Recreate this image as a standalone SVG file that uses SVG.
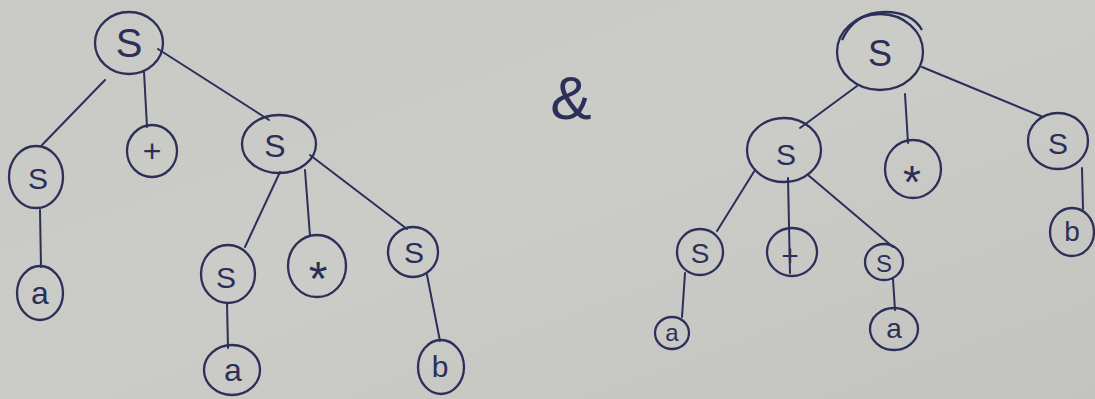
<svg xmlns="http://www.w3.org/2000/svg" width="1095" height="399" viewBox="0 0 1095 399">
  <defs>
    <linearGradient id="paper" x1="0" y1="0" x2="1" y2="1">
      <stop offset="0" stop-color="#c9cac6"/>
      <stop offset="0.5" stop-color="#cbccc8"/>
      <stop offset="1" stop-color="#c3c4c0"/>
    </linearGradient>
  </defs>
  <style>
    .node { fill: none; stroke: #2c2f58; stroke-width: 2.3; }
    .edge { fill: none; stroke: #2c2f58; stroke-width: 2; stroke-linecap: round; }
    .lbl { font-family: "Liberation Sans", "DejaVu Sans", sans-serif; fill: #2c2f58; text-anchor: middle; dominant-baseline: central; }
  </style>
  <rect x="0" y="0" width="1095" height="399" fill="url(#paper)"/>

  <g id="connectors">
    <!-- left tree -->
    <line class="edge" x1="105" y1="80" x2="42" y2="145"/>
    <line class="edge" x1="144" y1="72" x2="147" y2="127"/>
    <line class="edge" x1="158" y1="49" x2="269" y2="120"/>
    <line class="edge" x1="40" y1="210" x2="41" y2="267"/>
    <line class="edge" x1="280" y1="172" x2="245" y2="247"/>
    <line class="edge" x1="305" y1="170" x2="310" y2="236"/>
    <line class="edge" x1="310" y1="155" x2="407" y2="229"/>
    <line class="edge" x1="227" y1="303" x2="228" y2="348"/>
    <line class="edge" x1="427" y1="275" x2="440" y2="341"/>
    <!-- right tree -->
    <line class="edge" x1="857" y1="86" x2="800" y2="128"/>
    <line class="edge" x1="905" y1="94" x2="908" y2="143"/>
    <line class="edge" x1="922" y1="67" x2="1043" y2="117"/>
    <line class="edge" x1="1082" y1="168" x2="1083" y2="209"/>
    <line class="edge" x1="755" y1="170" x2="717" y2="231"/>
    <line class="edge" x1="788" y1="178" x2="790" y2="273"/>
    <line class="edge" x1="808" y1="175" x2="893" y2="247"/>
    <line class="edge" x1="685" y1="273" x2="682" y2="317"/>
    <line class="edge" x1="893" y1="279" x2="895" y2="310"/>
  </g>

  <!-- left tree nodes -->
  <g id="L_root"><ellipse class="node" cx="129" cy="43" rx="34" ry="31"/><text class="lbl" x="129" y="43" font-size="40">S</text></g>
  <g id="L_S1"><ellipse class="node" cx="36" cy="177" rx="27" ry="31"/><text class="lbl" x="38" y="178" font-size="30">S</text></g>
  <g id="L_plus"><ellipse class="node" cx="152" cy="151" rx="25" ry="26"/><text class="lbl" x="152" y="151" font-size="32">+</text></g>
  <g id="L_S2"><ellipse class="node" cx="279" cy="144" rx="37" ry="29"/><text class="lbl" x="275" y="146" font-size="32">S</text></g>
  <g id="L_a1"><ellipse class="node" cx="40" cy="293" rx="23" ry="27"/><text class="lbl" x="40" y="293" font-size="32">a</text></g>
  <g id="L_S3"><ellipse class="node" cx="228" cy="274" rx="27" ry="29"/><text class="lbl" x="226" y="277" font-size="30">S</text></g>
  <g id="L_star"><ellipse class="node" cx="317" cy="266" rx="29" ry="31"/><text class="lbl" x="318" y="278" font-size="48">*</text></g>
  <g id="L_S4"><ellipse class="node" cx="413" cy="252" rx="25" ry="25"/><text class="lbl" x="414" y="252" font-size="30">S</text></g>
  <g id="L_a2"><ellipse class="node" cx="232" cy="370" rx="28" ry="25"/><text class="lbl" x="233" y="370" font-size="32">a</text></g>
  <g id="L_b"><ellipse class="node" cx="441" cy="367" rx="23" ry="27"/><text class="lbl" x="440" y="366" font-size="30">b</text></g>

  <g id="amp"><text class="lbl" x="571" y="97" font-size="62">&amp;</text></g>

  <!-- right tree nodes -->
  <g id="R_root"><ellipse class="node" cx="880" cy="52" rx="43" ry="38"/><path class="node" d="M842 40 Q855 12 885 12 Q912 12 922 30" stroke-width="1.6"/><text class="lbl" x="880" y="53" font-size="36">S</text></g>
  <g id="R_S1"><ellipse class="node" cx="784" cy="150" rx="37" ry="32"/><text class="lbl" x="786" y="154" font-size="30">S</text></g>
  <g id="R_star"><ellipse class="node" cx="913" cy="169" rx="28" ry="29"/><text class="lbl" x="912" y="182" font-size="46">*</text></g>
  <g id="R_S2"><ellipse class="node" cx="1058" cy="141" rx="30" ry="28"/><text class="lbl" x="1058" y="143" font-size="30">S</text></g>
  <g id="R_b"><ellipse class="node" cx="1072" cy="232" rx="22" ry="24"/><text class="lbl" x="1072" y="231" font-size="28">b</text></g>
  <g id="R_S3"><ellipse class="node" cx="700" cy="252" rx="23" ry="23"/><text class="lbl" x="700" y="253" font-size="28">S</text></g>
  <g id="R_plus"><ellipse class="node" cx="792" cy="252" rx="25" ry="24"/><text class="lbl" x="790" y="255" font-size="30">+</text></g>
  <g id="R_S4"><ellipse class="node" cx="884" cy="262" rx="19" ry="18"/><text class="lbl" x="884" y="263" font-size="24">S</text></g>
  <g id="R_a1"><ellipse class="node" cx="672" cy="333" rx="17" ry="16"/><text class="lbl" x="672" y="332" font-size="24">a</text></g>
  <g id="R_a2"><ellipse class="node" cx="894" cy="329" rx="24" ry="21"/><text class="lbl" x="894" y="328" font-size="28">a</text></g>
</svg>
